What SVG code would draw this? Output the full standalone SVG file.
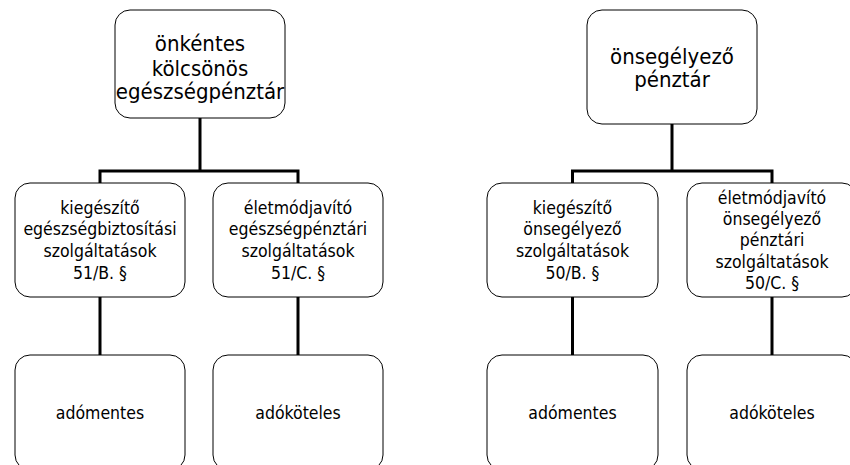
<svg xmlns="http://www.w3.org/2000/svg" width="850" height="465" viewBox="0 0 850 465">
<style>
.box{fill:#fff;stroke:#000;stroke-width:1}
.t{font-family:"DejaVu Sans Condensed","DejaVu Sans",sans-serif;font-stretch:condensed;fill:#000;text-anchor:middle}
.big{font-size:22px}
.sm{font-size:17.5px}
.c{stroke:#000;stroke-width:3;fill:none}
</style>
<rect width="850" height="465" fill="#fff"/>
<g id="connectors">
<path class="c" d="M200,118V171M100,171H298M100,169.5V183M298,169.5V183M100,297V355M298,297V355"/>
<path class="c" d="M672,124V171M572.5,171H772M572.5,169.5V183M772,169.5V183M572.5,297V355M772,297V355"/>
</g>
<g id="n1">
<rect class="box" x="115" y="10" width="170" height="108" rx="15"/>
<text class="t big"><tspan x="200" y="51">önkéntes</tspan><tspan x="200" y="76">kölcsönös</tspan><tspan x="200" y="99">egészségpénztár</tspan></text>
</g>
<g id="n2">
<rect class="box" x="15" y="183" width="170" height="114" rx="15"/>
<text class="t sm"><tspan x="100" y="213.5">kiegészítő</tspan><tspan x="100" y="235">egészségbiztosítási</tspan><tspan x="100" y="257">szolgáltatások</tspan><tspan x="100" y="278.5">51/B. §</tspan></text>
</g>
<g id="n3">
<rect class="box" x="213" y="183" width="170" height="114" rx="15"/>
<text class="t sm"><tspan x="298" y="213.5">életmódjavító</tspan><tspan x="298" y="235">egészségpénztári</tspan><tspan x="298" y="257">szolgáltatások</tspan><tspan x="298" y="278.5">51/C. §</tspan></text>
</g>
<g id="n4">
<rect class="box" x="15" y="355" width="170" height="115" rx="15"/>
<text class="t sm" x="100" y="418.5">adómentes</text>
</g>
<g id="n5">
<rect class="box" x="213" y="355" width="170" height="115" rx="15"/>
<text class="t sm" x="298" y="418.5">adóköteles</text>
</g>
<g id="n6">
<rect class="box" x="587" y="10" width="170" height="114" rx="15"/>
<text class="t big"><tspan x="672" y="64">önsegélyező</tspan><tspan x="672" y="87">pénztár</tspan></text>
</g>
<g id="n7">
<rect class="box" x="487" y="183" width="171" height="114" rx="15"/>
<text class="t sm"><tspan x="572.5" y="213.5">kiegészítő</tspan><tspan x="572.5" y="235">önsegélyező</tspan><tspan x="572.5" y="257">szolgáltatások</tspan><tspan x="572.5" y="278.5">50/B. §</tspan></text>
</g>
<g id="n8">
<rect class="box" x="687" y="183" width="170" height="114" rx="15"/>
<text class="t sm"><tspan x="772" y="203.5">életmódjavító</tspan><tspan x="772" y="225">önsegélyező</tspan><tspan x="772" y="246">pénztári</tspan><tspan x="772" y="268">szolgáltatások</tspan><tspan x="772" y="289">50/C. §</tspan></text>
</g>
<g id="n9">
<rect class="box" x="487" y="355" width="171" height="115" rx="15"/>
<text class="t sm" x="572.5" y="418.5">adómentes</text>
</g>
<g id="n10">
<rect class="box" x="687" y="355" width="170" height="115" rx="15"/>
<text class="t sm" x="772" y="418.5">adóköteles</text>
</g>
</svg>
